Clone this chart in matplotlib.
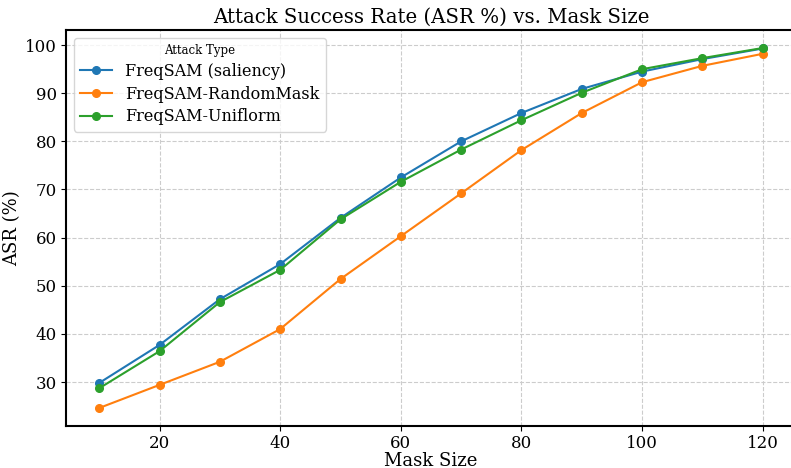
import matplotlib
matplotlib.use("Agg")
import matplotlib.pyplot as plt

mask_sizes = [10, 20, 30, 40, 50, 60, 70, 80, 90, 100, 110, 120]
asr_saliency = [29.8, 37.7, 47.2, 54.5, 64.1, 72.5, 80.0, 85.9, 90.9, 94.5, 97.1, 99.3]
asr_random = [24.6, 29.4, 34.2, 41.0, 51.4, 60.3, 69.2, 78.2, 85.9, 92.3, 95.7, 98.2]
asr_uniform = [28.7, 36.4, 46.6, 53.3, 63.8, 71.6, 78.3, 84.4, 90.1, 95.0, 97.3, 99.4]

plt.rcParams['font.family'] = 'DejaVu Serif'

fig = plt.figure(figsize=(7.91, 4.68), dpi=100)
ax = fig.add_axes([66 / 791, 1 - 426 / 468, 730 / 791, 396 / 468])

ax.plot(mask_sizes, asr_saliency, marker='o', markersize=5.5, linewidth=1.5, label='FreqSAM (saliency)')
ax.plot(mask_sizes, asr_random, marker='o', markersize=5.5, linewidth=1.5, label='FreqSAM-RandomMask')
ax.plot(mask_sizes, asr_uniform, marker='o', markersize=5.5, linewidth=1.5, label='FreqSAM-Uniflorm')

ax.set_title('Attack Success Rate (ASR %) vs. Mask Size', fontsize=14.2, pad=5)
ax.set_xlabel('Mask Size', fontsize=13, labelpad=0)
ax.set_ylabel('ASR (%)', fontsize=13, labelpad=3)
ax.tick_params(labelsize=12, pad=3)
ax.grid(True, linestyle='--', color='#cccccc', linewidth=0.8)
for s in ax.spines.values():
    s.set_linewidth(1.5)

ax.legend(title='Attack Type', fontsize=11.5, title_fontsize=8.5, loc='upper left',
          labelspacing=0.35)

fig.savefig('out.png', dpi=100)
